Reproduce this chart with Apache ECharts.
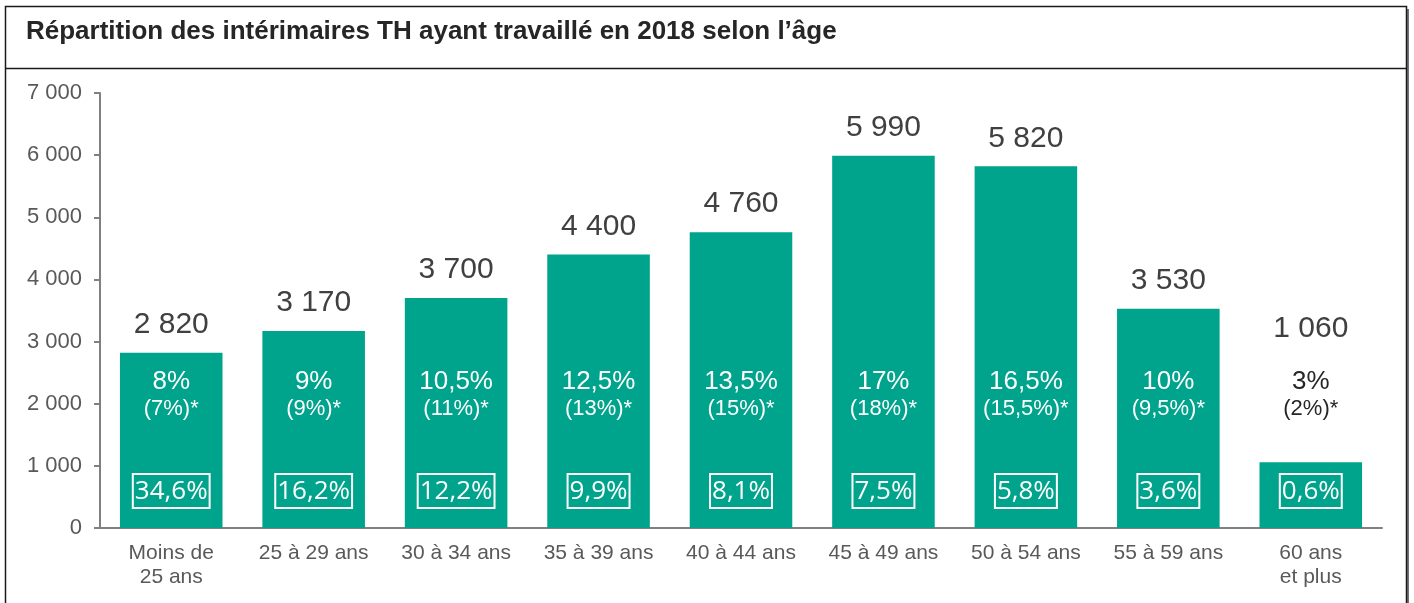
<!DOCTYPE html>
<html>
<head>
<meta charset="utf-8">
<script src="https://cdn.jsdelivr.net/npm/echarts@6/dist/echarts.min.js"></script>
<style>
  html, body { margin: 0; padding: 0; background: #fff; }
  #main { width: 1414px; height: 603px; }
</style>
</head>
<body>
<div id="main"></div>
<script>
const categories = ['Moins de\n25 ans', '25 à 29 ans', '30 à 34 ans', '35 à 39 ans', '40 à 44 ans', '45 à 49 ans', '50 à 54 ans', '55 à 59 ans', '60 ans\net plus'];
const effectifs = [2820, 3170, 3700, 4400, 4760, 5990, 5820, 3530, 1060];
const parts = ['8%', '9%', '10,5%', '12,5%', '13,5%', '17%', '16,5%', '10%', '3%'];
const partsRef = ['(7%)*', '(9%)*', '(11%)*', '(13%)*', '(15%)*', '(18%)*', '(15,5%)*', '(9,5%)*', '(2%)*'];
const encadres = ['34,6%', '16,2%', '12,2%', '9,9%', '8,1%', '7,5%', '5,8%', '3,6%', '0,6%'];

const vert = '#00A38B';
const last = effectifs.length - 1;
const arial = 'Liberation Sans, Arial, sans-serif';

function fmt(v) {
  return String(v).replace(/\B(?=(\d{3})+(?!\d))/g, ' ');
}

function pctRich(color) {
  return {
    a: { fontSize: 26, lineHeight: 27, color: color, fontFamily: arial },
    b: { fontSize: 22, lineHeight: 27, color: color, fontFamily: arial }
  };
}

const chart = echarts.init(document.getElementById('main'), null, { renderer: 'canvas' });

const option = {
  animation: false,
  backgroundColor: '#fff',
  textStyle: { fontFamily: arial },
  graphic: [
    {
      type: 'rect',
      shape: { x: 8, y: 9, width: 1401, height: 610 },
      style: { fill: '#000', opacity: 0.55 },
      silent: true, z: -2
    },
    {
      type: 'rect',
      shape: { x: 5.5, y: 6.5, width: 1401, height: 610 },
      style: { fill: '#fff', stroke: '#1a1a1a', lineWidth: 1.5 },
      silent: true, z: -1
    },
    {
      type: 'line',
      shape: { x1: 5.5, y1: 68.5, x2: 1406.5, y2: 68.5 },
      style: { stroke: '#1a1a1a', lineWidth: 1.5 },
      silent: true, z: -1
    },
    {
      type: 'text',
      left: 26, top: 19,
      style: {
        text: 'Répartition des intérimaires TH ayant travaillé en 2018 selon l’âge',
        font: 'bold 26px "Liberation Sans", Arial, sans-serif',
        fill: '#262626'
      }
    }
  ],
  grid: { left: 100, right: 32, top: 93, bottom: 75, containLabel: false },
  xAxis: {
    type: 'category',
    data: categories,
    axisLine: { lineStyle: { color: '#808080', width: 2 } },
    axisTick: { show: false },
    axisLabel: {
      color: '#595959',
      fontSize: 21,
      lineHeight: 24,
      margin: 13,
      interval: 0,
      fontFamily: arial
    }
  },
  yAxis: {
    type: 'value',
    min: 0,
    max: 7000,
    interval: 1000,
    splitLine: { show: false },
    axisLine: { show: true, lineStyle: { color: '#808080', width: 2 } },
    axisTick: { show: true, length: 6, lineStyle: { color: '#808080', width: 2 } },
    axisLabel: {
      color: '#595959',
      fontSize: 22,
      margin: 18,
      formatter: fmt,
      fontFamily: arial
    }
  },
  series: [
    {
      type: 'bar',
      barWidth: '72%',
      barGap: '-100%',
      itemStyle: { color: vert },
      label: {
        show: true,
        position: 'top',
        distance: 13,
        color: '#404040',
        fontSize: 30,
        fontFamily: arial,
        formatter: p => fmt(p.value)
      },
      data: effectifs.map((v, i) => i === last
        ? { value: v, label: { position: 'insideBottom', distance: 184 } }
        : v)
    },
    {
      type: 'bar',
      barWidth: '72%',
      barGap: '-100%',
      itemStyle: { color: 'rgba(0,0,0,0)' },
      silent: true,
      label: {
        show: true,
        position: 'insideBottom',
        distance: 106,
        formatter: p => '{a|' + parts[p.dataIndex] + '}\n{b|' + partsRef[p.dataIndex] + '}',
        rich: pctRich('#fff')
      },
      data: effectifs.map((v, i) => i === last
        ? { value: v, label: { rich: pctRich('#262626') } }
        : v)
    },
    {
      type: 'bar',
      barWidth: '72%',
      barGap: '-100%',
      itemStyle: { color: 'rgba(0,0,0,0)' },
      silent: true,
      label: {
        show: true,
        position: 'insideBottom',
        distance: 20,
        color: '#fff',
        fontSize: 26,
        lineHeight: 32,
        fontFamily: 'Open Sans, sans-serif',
        borderColor: '#fff',
        borderWidth: 2,
        padding: [2, 2, 0, 2],
        formatter: p => encadres[p.dataIndex]
      },
      data: effectifs
    }
  ]
};

chart.setOption(option);
</script>
</body>
</html>
